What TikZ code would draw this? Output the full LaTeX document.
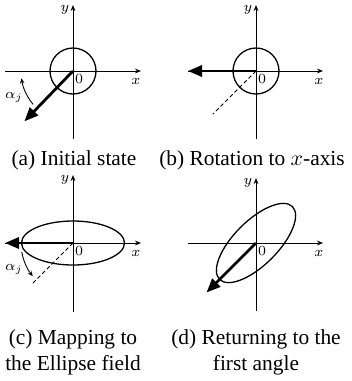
\documentclass[tikz,border=0pt]{standalone}
\usepackage{fontspec}
\setmainfont{Liberation Serif}
\usetikzlibrary{arrows.meta}
\begin{document}
\begin{tikzpicture}[x=0.5pt,y=0.5pt,
  axis/.style={line width=0.5pt,-{Stealth[length=3pt,width=2.4pt]}},
  curve/.style={line width=0.65pt},
  vec/.style={line width=1.4pt,-{Triangle[length=7pt,width=5.6pt]}},
  guide/.style={line width=0.4pt,dash pattern=on 2pt off 1.3pt},
  turn/.style={line width=0.45pt,-{Stealth[length=2.6pt,width=2.2pt]}},
  lbl/.style={inner sep=0pt,font=\fontsize{7.4}{8}\selectfont},
  captext/.style={inner sep=0pt,align=center,font=\fontsize{10.7}{13}\selectfont}]
\useasboundingbox (0,0) rectangle (352,-381);

% (a)
\begin{scope}[shift={(73,-71)}]
  \coordinate (aO) at (0,0);
  \coordinate (aXl) at (-68,0); \coordinate (aXr) at (68,0);
  \coordinate (aYb) at (0,-68); \coordinate (aYt) at (0,66);
  \coordinate (aV) at (226:70);
  \coordinate (aT1) at (220:52);
  \draw[axis] (aXl) -- (aXr);
  \draw[axis] (aYb) -- (aYt);
  \node[lbl] (ay) at (-8,61) {$y$};
  \node[lbl] (ax) at (63,-10) {$x$};
  \node[lbl] (a0) at (6,-8) {$0$};
  \draw[curve] (aO) circle[radius=23];
  \draw[vec] (aO) -- (aV);
  \draw[turn] (aT1) arc[start angle=220,end angle=188,radius=52];
  \node[lbl] (aal) at (-59,-26) {$\alpha_j$};
\end{scope}

% (b)
\begin{scope}[shift={(256,-71)}]
  \coordinate (bO) at (0,0);
  \coordinate (bXl) at (-68,0); \coordinate (bXr) at (67,0);
  \coordinate (bYb) at (0,-68); \coordinate (bYt) at (0,66);
  \coordinate (bV) at (-68,0);
  \coordinate (bD) at (225:61);
  \draw[axis] (bXl) -- (bXr);
  \draw[axis] (bYb) -- (bYt);
  \node[lbl] (by) at (-8,61) {$y$};
  \node[lbl] (bx) at (63,-10) {$x$};
  \node[lbl] (b0) at (6,-8) {$0$};
  \draw[curve] (bO) circle[radius=23];
  \draw[guide] (bO) -- (bD);
  \draw[vec] (bO) -- (bV);
\end{scope}

% (c)
\begin{scope}[shift={(73,-243)}]
  \coordinate (cO) at (0,0);
  \coordinate (cXl) at (-68,0); \coordinate (cXr) at (68,0);
  \coordinate (cYb) at (0,-69); \coordinate (cYt) at (0,68);
  \coordinate (cV) at (-68,0);
  \coordinate (cD) at (225:59);
  \coordinate (cT1) at (190:52);
  \draw[axis] (cXl) -- (cXr);
  \draw[axis] (cYb) -- (cYt);
  \node[lbl] (cy) at (-8,63) {$y$};
  \node[lbl] (cx) at (63,-10) {$x$};
  \node[lbl] (c0) at (6,-8) {$0$};
  \draw[curve] (cO) ellipse[x radius=51.5,y radius=22];
  \draw[guide] (cO) -- (cD);
  \draw[vec] (cO) -- (cV);
  \draw[turn] (cT1) arc[start angle=190,end angle=219,radius=53];
  \node[lbl] (cal) at (-59,-26) {$\alpha_j$};
\end{scope}

% (d)
\begin{scope}[shift={(256,-243)}]
  \coordinate (dO) at (0,0);
  \coordinate (dXl) at (-68,0); \coordinate (dXr) at (67,0);
  \coordinate (dYb) at (0,-68); \coordinate (dYt) at (0,65);
  \coordinate (dV) at (225:70);
  \draw[axis] (dXl) -- (dXr);
  \draw[axis] (dYb) -- (dYt);
  \node[lbl] (dy) at (-8,60) {$y$};
  \node[lbl] (dx) at (63,-10) {$x$};
  \node[lbl] (d0) at (6,-8) {$0$};
  \draw[curve,rotate=45] (dO) ellipse[x radius=51.5,y radius=22];
  \draw[vec] (dO) -- (dV);
\end{scope}

% captions
\node[captext] (capa) at (74,-160) {(a) Initial state};
\node[captext] (capb) at (252,-160) {(b) Rotation to $x$-axis};
\node[captext] (capc) at (73,-352) {(c) Mapping to\\the Ellipse field};
\node[captext] (capd) at (256,-352) {(d) Returning to the\\first angle};
\end{tikzpicture}
\end{document}
